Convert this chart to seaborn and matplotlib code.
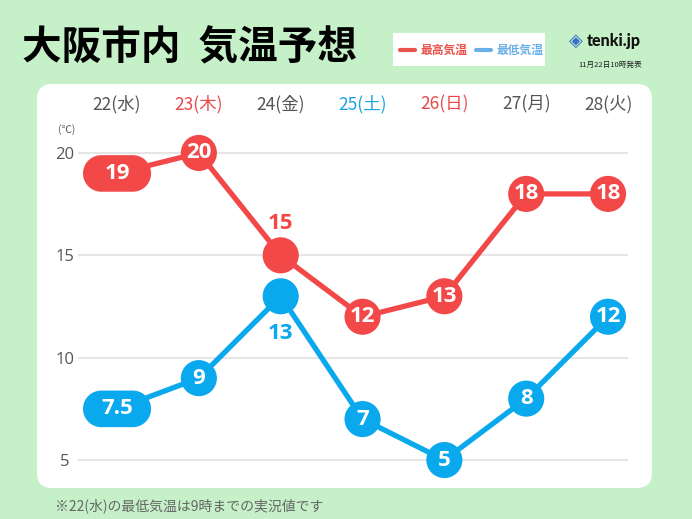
import numpy as np
import pandas as pd
import matplotlib
matplotlib.use("Agg")
import matplotlib.pyplot as plt
from matplotlib.path import Path
from matplotlib.patches import FancyBboxPatch, Rectangle
import seaborn as sns

sns.set_style("white")
plt.rcParams['font.family'] = ['Noto Sans CJK JP', 'DejaVu Sans']

# data
days = ["22(水)", "23(木)", "24(金)", "25(土)", "26(日)", "27(月)", "28(火)"]
day_colors = ["#555555", "#E8474A", "#555555", "#1AA3E2", "#E8474A", "#555555", "#555555"]
high = [19, 20, 15, 12, 13, 18, 18]
low = [7.5, 9, 13, 7, 5, 8, 12]
high_labels = ["19", "20", "15", "12", "13", "18", "18"]
low_labels = ["7.5", "9", "13", "7", "5", "8", "12"]
yticks = [5, 10, 15, 20]

RED = "#F24848"
BLUE = "#0AA8EC"
BG = "#C5F0C8"

df = pd.DataFrame({
    "pos": list(range(len(days))) * 2,
    "temp": high + low,
    "series": ["最高気温"] * len(days) + ["最低気温"] * len(days),
    "label": high_labels + low_labels,
})
palette = {"最高気温": RED, "最低気温": BLUE}

# pill shaped marker for the first day
t = np.linspace(-np.pi / 2, np.pi / 2, 30)
r = 0.5
a = (67 / 36 - 1) * 0.5
right = np.column_stack([a + r * np.cos(t), r * np.sin(t)])
left = np.column_stack([-a - r * np.cos(t), -r * np.sin(t)])
pill = Path(np.vstack([right, left, right[:1]]), closed=True)

fig = plt.figure(figsize=(6.92, 5.19), dpi=100)
fig.patch.set_facecolor(BG)

W, H = 692, 519
panel = FancyBboxPatch((37 / W, (H - 488) / H), (652 - 37) / W, (488 - 84) / H,
                       boxstyle="round,pad=0,rounding_size=0.022",
                       transform=fig.transFigure, facecolor="white", edgecolor="none",
                       mutation_aspect=W / H, zorder=-1)
fig.patches.append(panel)

ax = fig.add_axes([78 / W, (H - 480.5) / H, (628 - 78) / W, (480.5 - 132.5) / H])
ax.set_facecolor("none")
ax.set_zorder(2)

sns.lineplot(data=df, x="pos", y="temp", hue="series", palette=palette,
             linewidth=3.8, legend=False, ax=ax, zorder=2)

first = df[df["pos"] == 0]
rest = df[df["pos"] != 0]
sns.scatterplot(data=rest, x="pos", y="temp", hue="series", palette=palette,
                s=26 ** 2, marker="o", edgecolor="none", legend=False, ax=ax,
                zorder=3, clip_on=False)
sns.scatterplot(data=first, x="pos", y="temp", hue="series", palette=palette,
                s=49 ** 2, marker=pill, edgecolor="none", legend=False, ax=ax,
                zorder=3, clip_on=False)

for _, row in df.iterrows():
    if row["pos"] == 2:
        col = palette[row["series"]]
        dy = 23 if row["series"] == "最高気温" else -27
        ax.annotate(row["label"], (row["pos"], row["temp"]), xytext=(0, dy),
                    textcoords="offset points", ha="center", va="center",
                    color=col, fontsize=16, fontweight="bold",
                    family=["Open Sans", "DejaVu Sans"], zorder=4)
    else:
        ax.text(row["pos"], row["temp"], row["label"], ha="center", va="center",
                color="white", fontsize=16, fontweight="bold",
                family=["Open Sans", "DejaVu Sans"], zorder=4)

ax.set_xlim(-0.477, 6.244)
ax.set_ylim(4, 21)
ax.set_yticks(yticks)
ax.set_yticklabels([str(v) for v in yticks], fontsize=12, color="#555555",
                   family=["Open Sans", "DejaVu Sans"], ha="center")
ax.tick_params(axis="y", length=0, pad=9.5)
ax.xaxis.tick_top()
ax.set_xticks(range(len(days)))
ax.set_xticklabels(days, fontsize=12.5)
for lab, c in zip(ax.get_xticklabels(), day_colors):
    lab.set_color(c)
ax.tick_params(axis="x", length=0, pad=13.5)
ax.grid(axis="y", color="#E0E0E0", linewidth=1.2)
ax.grid(axis="x", visible=False)
ax.set_xlabel("")
ax.set_ylabel("")
for s in ax.spines.values():
    s.set_visible(False)

fig.text(67 / W, 1 - 130 / H, "(℃)", ha="center", va="center", fontsize=7.5, color="#555555")

# title and legend box
fig.text(22 / W, 1 - 48 / H, "大阪市内  気温予想", ha="left", va="center",
         fontsize=28.5, fontweight="bold", color="black")
fig.patches.append(Rectangle((393 / W, 1 - 66 / H), (545 - 393) / W, 33 / H,
                             transform=fig.transFigure, facecolor="white", edgecolor="none"))
fig.lines.append(plt.Line2D([400 / W, 415 / W], [1 - 50 / H] * 2, transform=fig.transFigure,
                            color="#E8524A", linewidth=3))
fig.text(420 / W, 1 - 50 / H, "最高気温", ha="left", va="center", fontsize=8.5,
         color="#E8524A", fontweight="bold")
fig.lines.append(plt.Line2D([476 / W, 491 / W], [1 - 50 / H] * 2, transform=fig.transFigure,
                            color="#6AB0E8", linewidth=3))
fig.text(496 / W, 1 - 50 / H, "最低気温", ha="left", va="center", fontsize=8.5,
         color="#6AB0E8", fontweight="bold")

# tenki.jp mark
fig.text(576 / W, 1 - 41 / H, "◈", ha="center", va="center", fontsize=13, color="#3A6FC8",
         family=["DejaVu Sans"])
fig.text(587 / W, 1 - 41 / H, "tenki.jp", ha="left", va="center", fontsize=11.5,
         fontweight="black", color="#111111", family=["Lato", "DejaVu Sans"])
fig.text(610 / W, 1 - 65 / H, "11月22日10時発表", ha="center", va="center", fontsize=5.5,
         color="#222222")

fig.text(55 / W, 1 - 506 / H, "※22(水)の最低気温は9時までの実況値です", ha="left", va="center",
         fontsize=10, color="#666666")

fig.savefig("out.png", dpi=100, facecolor=BG)
